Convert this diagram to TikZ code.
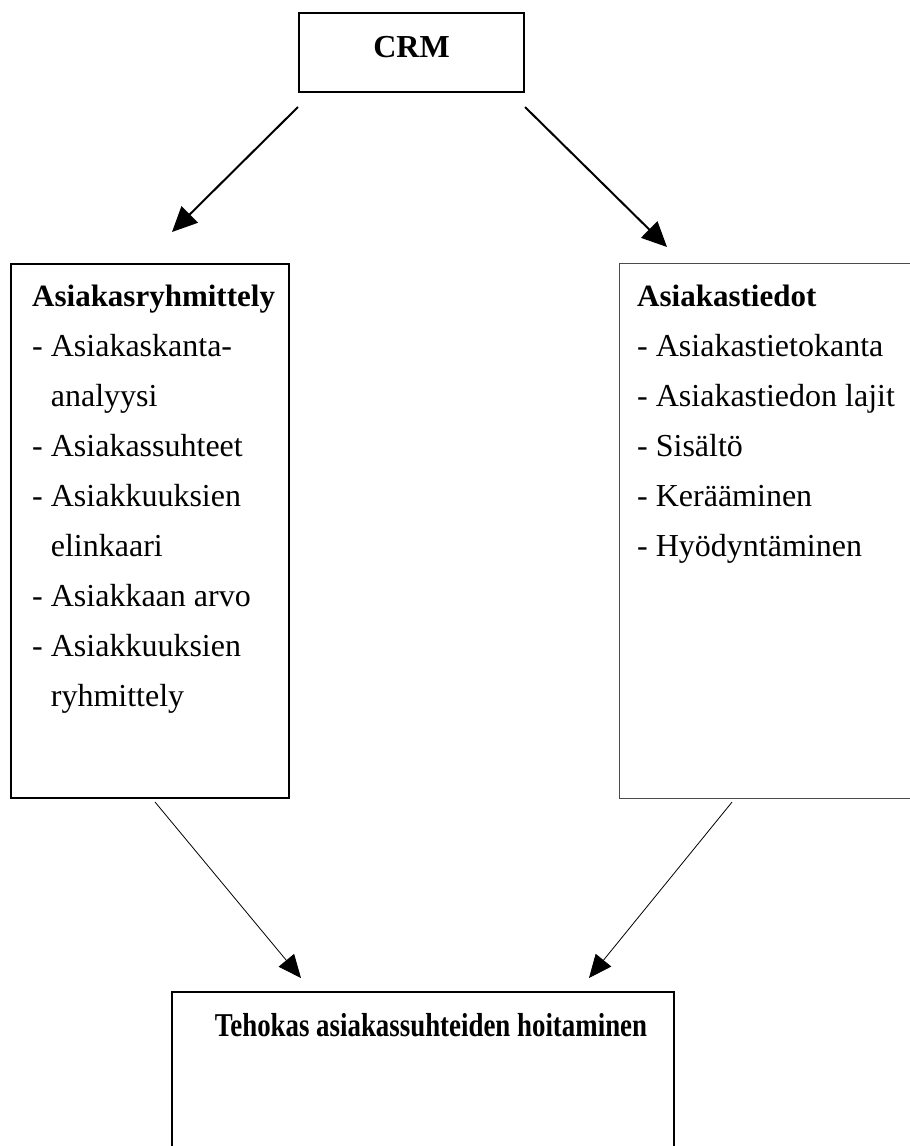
\documentclass[tikz,border=0pt]{standalone}
\usepackage{fontspec}
\setmainfont{Liberation Serif}
\usetikzlibrary{arrows.meta,calc}

\tikzset{
  box/.style={draw=black, line width=2pt, anchor=north west, inner sep=0pt},
  lightbox/.style={draw=black!70, line width=1.1pt, anchor=north west, inner sep=0pt},
  line/.style={anchor=base west, inner sep=0pt, font=\fontsize{32}{50}\selectfont},
  headline/.style={line, font=\fontsize{31}{50}\selectfont\bfseries},
  heavyarrow/.style={line width=2pt, -{Triangle[length=25pt,width=23pt]}},
  lightarrow/.style={line width=0.8pt, -{Triangle[length=23pt,width=20pt]}},
}

\begin{document}
\begin{tikzpicture}[x=1pt, y=-1pt]
  \useasboundingbox (0,0) rectangle (910,1146);

  % top box
  \node[box, minimum width=225pt, minimum height=79pt] (crm) at (298,12) {};
  \node[anchor=base, inner sep=0pt, font=\fontsize{32}{40}\selectfont\bfseries] (crmtext)
    at ($(crm.north)+(0,45)$) {CRM};

  % left box with its list
  \node[box, minimum width=278pt, minimum height=534pt] (left) at (10,263) {};
  \node[headline] (lh) at ($(left.north west)+(22,43)$) {Asiakasryhmittely};
  \foreach \t [count=\i] in {- Asiakaskanta-, \hphantom{- }analyysi, - Asiakassuhteet,
      - Asiakkuuksien, \hphantom{- }elinkaari, - Asiakkaan arvo, - Asiakkuuksien,
      \hphantom{- }ryhmittely}
    \node[line] (l\i) at ($(left.north west)+(22,43+50*\i)$) {\t};

  % right box, running past the right edge
  \node[lightbox, minimum width=320pt, minimum height=535pt] (right) at (619,263) {};
  \node[headline] (rh) at ($(right.north west)+(18,43)$) {Asiakastiedot};
  \foreach \t [count=\i] in {- Asiakastietokanta, - Asiakastiedon lajit, - Sisältö,
      - Kerääminen, - Hyödyntäminen}
    \node[line] (r\i) at ($(right.north west)+(18,43+50*\i)$) {\t};

  % bottom box, running past the lower edge
  \node[box, minimum width=502pt, minimum height=200pt] (goal) at (171,991) {};
  \node[anchor=base, inner sep=0pt] (goaltext) at ($(goal.north)+(8,45)$)
    {\scalebox{0.84}[1.04]{\fontsize{32}{40}\selectfont\bfseries Tehokas asiakassuhteiden hoitaminen}};

  % arrow end points
  \coordinate (a1) at ($(crm.south west)+(0,14)$);
  \coordinate (b1) at ($(left.north west)+(162,-31)$);
  \coordinate (a2) at ($(crm.south east)+(0,14)$);
  \coordinate (b2) at ($(right.north west)+(48,-16)$);
  \coordinate (a3) at ($(left.south west)+(145,3)$);
  \coordinate (b3) at ($(goal.north west)+(130,-13)$);
  \coordinate (a4) at ($(right.south west)+(113,3)$);
  \coordinate (b4) at ($(goal.north west)+(418,-13)$);

  \draw[heavyarrow] (a1) -- (b1);
  \draw[heavyarrow] (a2) -- (b2);
  \draw[lightarrow] (a3) -- (b3);
  \draw[lightarrow] (a4) -- (b4);
\end{tikzpicture}
\end{document}
